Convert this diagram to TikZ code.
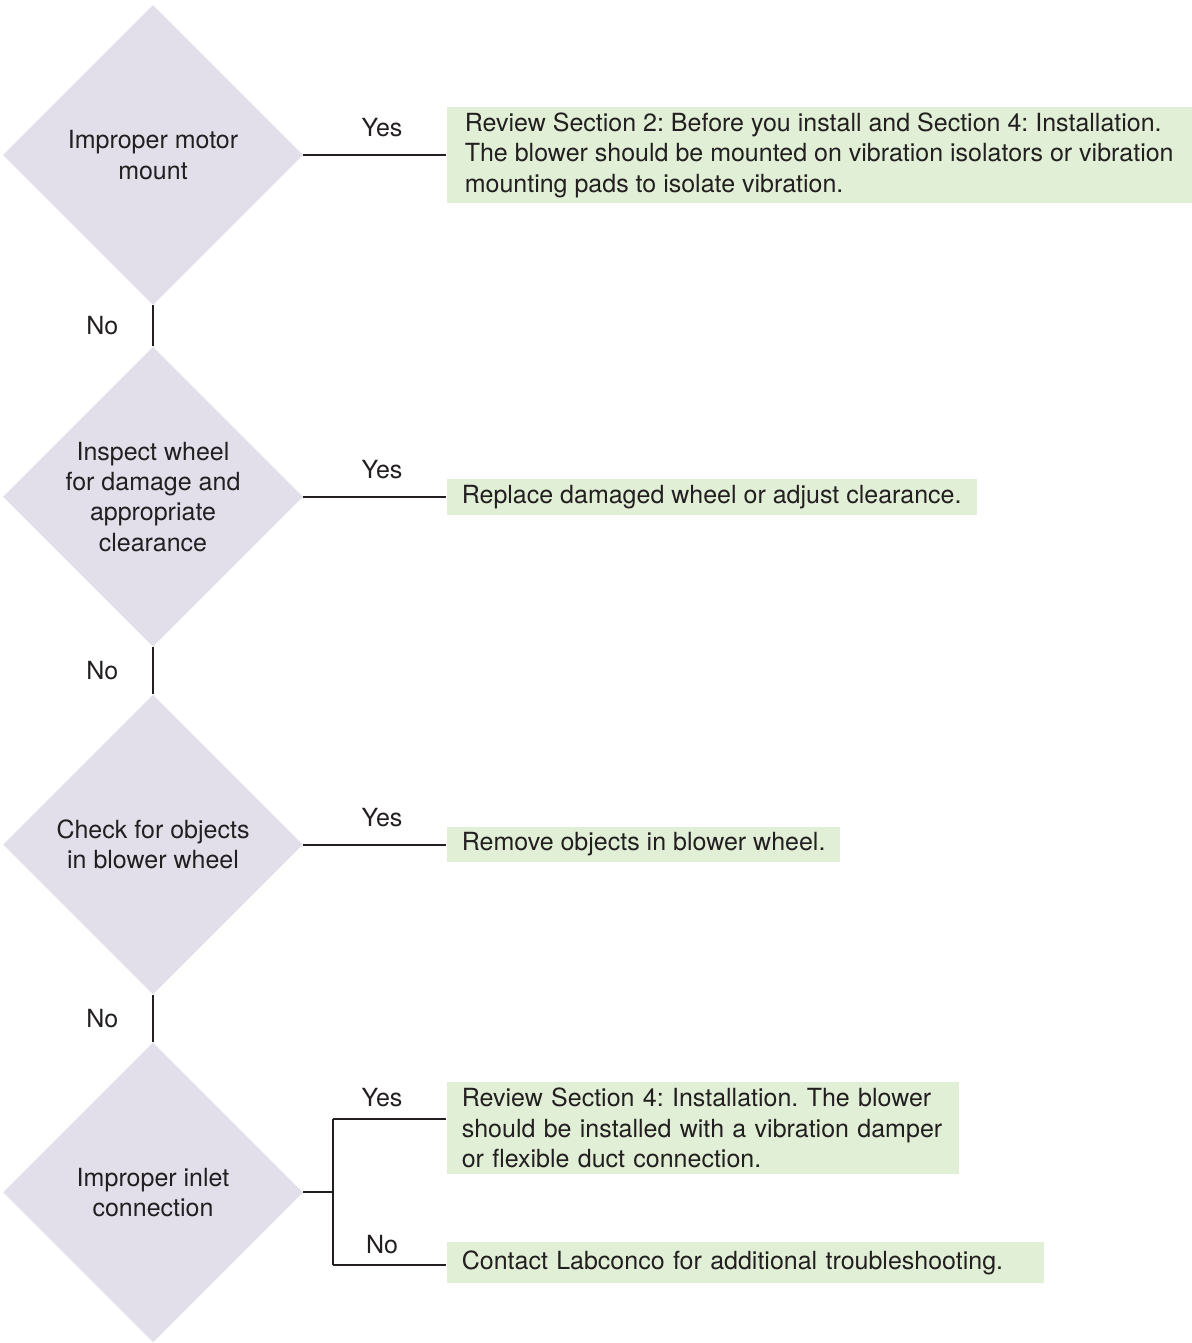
\documentclass[tikz,border=0pt]{standalone}
\usepackage{fontspec}
\setmainfont{TeX Gyre Heros}
\usetikzlibrary{shapes.geometric,positioning}
\definecolor{diafill}{HTML}{E2DFEB}
\definecolor{boxfill}{HTML}{E1EFD6}
\definecolor{ink}{HTML}{231F20}
\frenchspacing
\begin{document}
\begin{tikzpicture}[x=0.5pt, y=-0.5pt, font=\fontsize{12.5}{15.2}\selectfont, text=ink,
	main/.style = {diamond, fill=diafill, minimum size=150pt, inner sep=0pt, align=center},
	fix/.style = {fill=boxfill, inner xsep=7.5pt, inner ysep=3pt, align=left, anchor=west},
	link/.style = {draw=ink, line width=1pt}]
	\useasboundingbox (0,0) rectangle (1191,1343);
	\node[main] (1) at (153,155) {Improper motor\\mount};
	\node[main] [below=20.5pt of 1] (2) {Inspect wheel\\for damage and\\appropriate\\clearance};
	\node[main] [below=23.5pt of 2] (3) {Check for objects\\in blower wheel};
	\node[main] [below=23.5pt of 3] (4) {Improper inlet\\connection};
	\node[fix] [right=71.5pt of 1, inner xsep=9pt] (r1) {Review Section 2: Before you install and Section 4: Installation.\\The blower should be mounted on vibration isolators or vibration\\mounting pads to isolate vibration.};
	\draw[link] (1) -- (r1) node [pos=0.55, above=5pt] {Yes};
	\draw[link] (1) -- (2) node [midway, left=13.5pt] {No};
	\node[fix] [right=71.5pt of 2] (r2) {Replace damaged wheel or adjust clearance.};
	\draw[link] (2) -- (r2) node [pos=0.55, above=5pt] {Yes};
	\draw[link] (2) -- (3) node [midway, left=13.5pt] {No};
	\node[fix] [right=71.5pt of 3] (r3) {Remove objects in blower wheel.};
	\draw[link] (3) -- (r3) node [pos=0.55, above=5pt] {Yes};
	\draw[link] (3) -- (4) node [midway, left=13.5pt] {No};
	% split after the last question
	\coordinate [right=15pt of 4] (split);
	\coordinate (yes4) at ([yshift=36.5pt]split);
	\coordinate (no4) at ([yshift=-36.5pt]split);
	\node[fix] [right=56.5pt of yes4, yshift=-4.25pt, text width=241pt] (r4) {Review Section 4: Installation. The blower\\should be installed with a vibration damper\\or flexible duct connection.};
	\node[fix] [right=56.5pt of no4, yshift=1.5pt, minimum height=20.5pt, text width=283.5pt] (r5) {Contact Labconco for additional troubleshooting.};
	\draw[link] (4) -- (split);
	\draw[link] (yes4) -- (no4);
	\draw[link] (yes4) -- (yes4 -| r4.west) node [pos=0.43, above=2.5pt] {Yes};
	\draw[link] (no4) -- (no4 -| r5.west) node [pos=0.43, above=1.7pt] {No};
\end{tikzpicture}
\end{document}
